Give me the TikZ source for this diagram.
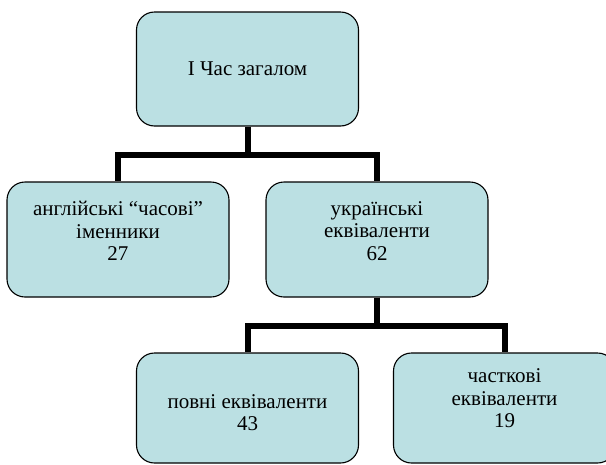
\documentclass[tikz,border=0pt]{standalone}
\usepackage{fontspec}
\setmainfont{Liberation Serif}
\definecolor{boxblue}{RGB}{187,224,227}

\begin{document}
\begin{tikzpicture}[x=1pt,y=1pt,
   block/.style={rectangle,rounded corners=18pt,draw,line width=1.1pt,fill=boxblue,
                 minimum width=222pt,minimum height=114pt,align=center,
                 font=\fontsize{21}{22.5}\selectfont},
   branch/.style={line width=6pt}]
\useasboundingbox (0,0) rectangle (606,-464);
\clip (0,0) rectangle (606,-464);
       \node [block] at (247.5,-69) (time) {І Час загалом};
          \node [block,minimum height=115pt,text depth=17pt] at (118,-239.5) (eng) {англійські “часові”\\ іменники\\ 27};
             \node [block,minimum height=115pt,text depth=17pt] at (377,-239.5) (ukr) {українські\\ еквіваленти\\ 62};
              \node [block,minimum height=110pt,text height=46pt] at (247.5,-408) (full) {повні еквіваленти\\ 43};
               \node [block,minimum height=110pt,text depth=19pt] at (504.5,-408) (part) {часткові\\ еквіваленти\\ 19};
%
%
\draw[branch] (time.south) -- ++(0,-28.5) -| (eng.north);
\draw[branch] (time.south) -- ++(0,-28.5) -| (ukr.north);
\draw[branch] (ukr.south) -- ++(0,-28) -| (full.north);
\draw[branch] (ukr.south) -- ++(0,-28) -| (part.north);

\end{tikzpicture}
\end{document}
